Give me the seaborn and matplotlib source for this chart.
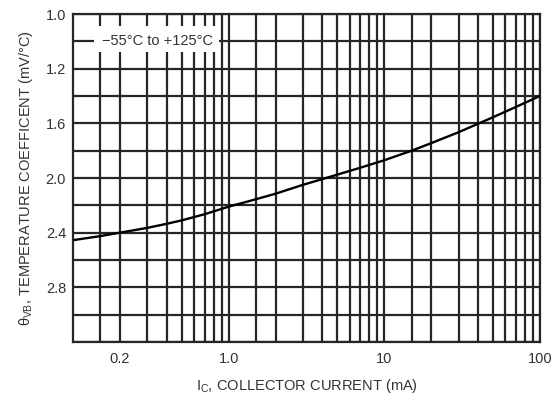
import matplotlib
matplotlib.use("Agg")
import matplotlib.pyplot as plt
from matplotlib.patches import Rectangle
from matplotlib.ticker import FixedLocator, FixedFormatter, NullFormatter
import seaborn as sns
import pandas as pd

# Collector current (mA) and base-emitter voltage temperature coefficient (mV/°C)
collector_current = [0.1, 0.15, 0.2, 0.3, 0.4, 0.5, 0.7, 1.0, 1.5, 2.0, 3.0, 5.0, 7.0,
                     10, 15, 20, 30, 50, 70, 100]
temp_coefficient = [2.455, 2.425, 2.40, 2.365, 2.335, 2.31, 2.265, 2.21, 2.155, 2.115, 2.05,
                    1.975, 1.925, 1.87, 1.80, 1.745, 1.665, 1.555, 1.48, 1.40]

x_tick_values = [0.2, 1.0, 10, 100]
x_tick_labels = ["0.2", "1.0", "10", "100"]
y_tick_values = [0.8, 1.2, 1.6, 2.0, 2.4, 2.8]
y_tick_labels = ["1.0", "1.2", "1.6", "2.0", "2.4", "2.8"]
range_label = "\u221255\u00b0C to +125\u00b0C"

sns.set_theme(style="white")
plt.rcParams["font.family"] = ["Liberation Sans Narrow", "Liberation Sans", "DejaVu Sans"]
plt.rcParams["mathtext.fontset"] = "custom"
plt.rcParams["mathtext.rm"] = "Liberation Sans"
plt.rcParams["mathtext.it"] = "Liberation Sans"

text_color = "#333333"
grid_color = "#262626"

df = pd.DataFrame({"ic": collector_current, "theta": temp_coefficient})

fig = plt.figure(figsize=(5.58, 4.0), dpi=100)
ax = fig.add_axes([73 / 558, 1 - 342 / 400, 467 / 558, 328 / 400])

sns.lineplot(data=df, x="ic", y="theta", ax=ax, color="black", linewidth=1.7, zorder=5)

ax.set_xscale("log")
ax.set_xlim(0.1, 100)
ax.set_ylim(3.2, 0.8)

# Log-decade grid: 1.5, 2, 3 ... 9 within each decade
minor_x = [m * 10 ** k for k in (-1, 0, 1) for m in (1.5, 2, 3, 4, 5, 6, 7, 8, 9)] + [1, 10]
ax.xaxis.set_major_locator(FixedLocator(x_tick_values))
ax.xaxis.set_major_formatter(FixedFormatter(x_tick_labels))
ax.xaxis.set_minor_locator(FixedLocator(minor_x))
ax.xaxis.set_minor_formatter(NullFormatter())

minor_y = [0.8 + 0.2 * i for i in range(13)]
ax.yaxis.set_major_locator(FixedLocator(y_tick_values))
ax.yaxis.set_major_formatter(FixedFormatter(y_tick_labels))
ax.yaxis.set_minor_locator(FixedLocator(minor_y))

ax.grid(which="both", color=grid_color, linewidth=1.6, zorder=1)
ax.set_axisbelow(True)
ax.tick_params(which="both", length=0, labelsize=10.5, colors=text_color)
ax.tick_params(axis="y", pad=5)
ax.tick_params(axis="x", pad=7)

for spine in ax.spines.values():
    spine.set_color(grid_color)
    spine.set_linewidth(1.6)

ax.set_xlabel(r"I$_{\rm C}$, COLLECTOR CURRENT (mA)", fontsize=10.5, color=text_color, labelpad=8)
ax.set_ylabel(r"$\theta_{\rm VB}$, TEMPERATURE COEFFICENT (mV/°C)", fontsize=10.5,
              color=text_color, labelpad=8)

# White label panel over the grid
ax.add_patch(Rectangle((21 / 467, 1 - 38 / 328), 125 / 467, 26 / 328,
                       transform=ax.transAxes, facecolor="white", edgecolor="none", zorder=3))
ax.text(84 / 467, 1 - 27 / 328, range_label, transform=ax.transAxes, ha="center", va="center",
        fontsize=10.5, color=text_color, zorder=4)

fig.savefig("out.png", dpi=100)
